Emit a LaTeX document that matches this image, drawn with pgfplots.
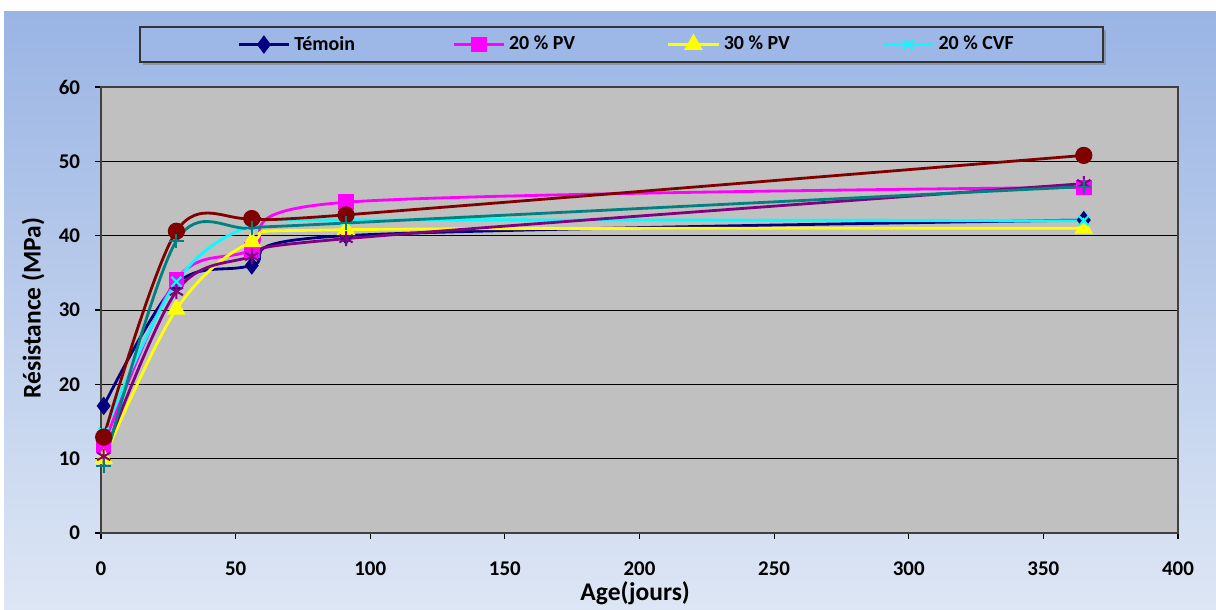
\documentclass[border=0pt]{standalone}
\usepackage{pgfplots}
\pgfplotsset{compat=1.18}
\usepackage{fontspec}
\setmainfont{Carlito}
\usetikzlibrary{shadows}
\definecolor{bgtop}{HTML}{9AB4E4}
\definecolor{bgbot}{HTML}{DDE6F4}
\definecolor{legbg}{HTML}{9DB7E6}
\definecolor{plotbg}{HTML}{C0C0C0}
\definecolor{cnavy}{HTML}{000080}
\definecolor{cmag}{HTML}{FF00FF}
\definecolor{cyel}{HTML}{FFFF00}
\definecolor{ccyan}{HTML}{00FFFF}
\definecolor{cdred}{HTML}{800000}
\definecolor{cpurp}{HTML}{800080}
\definecolor{cteal}{HTML}{008080}
\begin{document}
\begin{tikzpicture}
\fill[white] (0bp,0bp) rectangle (608bp,305bp);
\shade[top color=bgtop,bottom color=bgbot] (2bp,0bp) rectangle (608bp,299bp);
\draw[black!80,line width=0.6bp,fill=legbg,drop shadow={shadow xshift=1.5bp,shadow yshift=-1.5bp,opacity=0.6}] (70bp,274bp) rectangle (551.5bp,291.5bp);
\begin{axis}[
  at={(50.5bp,38.5bp)}, anchor=south west,
  scale only axis, width=538.5bp, height=223bp,
  xmin=0, xmax=400, ymin=0, ymax=60,
  xtick={0,50,...,400}, ytick={0,10,...,60},
  axis background/.style={fill=plotbg},
  axis line style={black!75,line width=0.8bp},
  ymajorgrids, grid style={black,line width=0.5bp},
  tick align=outside, major tick length=3bp,
  tick style={black,line width=0.6bp},
  xtick pos=bottom, ytick pos=left,
  /pgf/number format/assume math mode=true,
  ticklabel style={font=\fontsize{10.5}{12}\selectfont\bfseries},
  xticklabel style={yshift=-8bp},
  yticklabel style={xshift=-4bp},
  xlabel={Age(jours)}, ylabel={Résistance (MPa)},
  label style={font=\fontsize{12.8}{14}\selectfont\bfseries},
  x label style={at={(axis description cs:0.496,-0.136)},anchor=center},
  y label style={at={(axis description cs:-0.063,0.504)},anchor=center,rotate=0},
  legend columns=4,
  legend style={at={(0.1264,1.0953)},anchor=west,draw=none,fill=none,
    font=\fontsize{10}{11}\selectfont\bfseries, inner xsep=0pt, inner ysep=0pt},
  legend image code/.code={\draw[mark repeat=2,mark phase=2,#1] plot coordinates {(0bp,0bp) (12.5bp,0bp) (25bp,0bp)};},
  every axis plot/.append style={line width=1.4bp, smooth, tension=0.55},
]
\addplot[cnavy, mark=diamond*, mark size=3.5bp, mark options={solid,fill=cnavy}] coordinates {(1,17.1)(28,33.5)(56,36.0)(91,40.0)(365,42.1)};
\addlegendentry{\makebox[77bp][l]{Témoin}}
\addplot[cmag, mark=square*, mark size=3.2bp, mark options={solid,fill=cmag}] coordinates {(1,11.8)(28,34.1)(56,38.1)(91,44.5)(365,46.5)};
\addlegendentry{\makebox[77bp][l]{20 \% PV}}
\addplot[cyel, mark=triangle*, mark size=4bp, mark options={solid,fill=cyel}] coordinates {(1,10.0)(28,30.1)(56,39.2)(91,40.8)(365,41.0)};
\addlegendentry{\makebox[77bp][l]{30 \% PV}}
\addplot[ccyan, mark=x, mark size=3.5bp, mark options={solid,line width=1bp}] coordinates {(1,13.5)(28,33.8)(56,41.4)(91,42.1)(365,42.0)};
\addlegendentry{\makebox[40bp][l]{20 \% CVF}}
\addplot[cdred, mark=*, mark size=3.6bp, mark options={solid,fill=cdred}, forget plot] coordinates {(1,12.9)(28,40.6)(56,42.3)(91,42.8)(365,50.8)};
\addplot[cpurp, mark=asterisk, mark size=3.8bp, mark options={solid,line width=1bp}, forget plot] coordinates {(1,10.3)(28,32.5)(56,37.2)(91,39.6)(365,47.0)};
\addplot[cteal, mark=+, mark size=3.6bp, mark options={solid,line width=1bp}, forget plot] coordinates {(1,9.0)(28,39.3)(56,41.0)(91,41.7)(365,46.6)};
\end{axis}
\pgfresetboundingbox
\useasboundingbox (0bp,0bp) rectangle (608bp,305bp);
\end{tikzpicture}
\end{document}
